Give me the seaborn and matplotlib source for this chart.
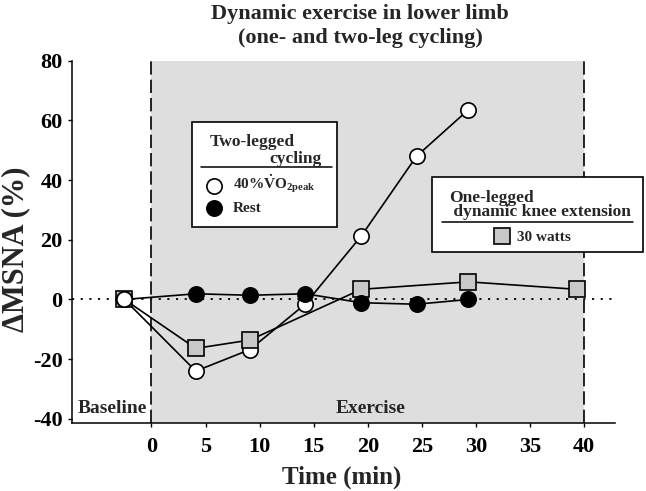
import matplotlib
matplotlib.use("Agg")
import matplotlib.pyplot as plt
import seaborn as sns
from matplotlib.patches import Rectangle
from matplotlib.lines import Line2D

# ---------------- data ----------------
time_vo2 = [-2.5, 4.1, 9.1, 14.2, 19.4, 24.5, 29.3]
msna_vo2 = [0.0, -24.0, -16.8, -1.6, 21.3, 48.0, 63.6]

time_rest = [-2.5, 4.1, 9.1, 14.2, 19.4, 24.5, 29.3]
msna_rest = [0.0, 1.9, 1.4, 1.9, -1.1, -1.6, 0.0]

time_knee = [-2.5, 4.1, 9.1, 19.4, 29.3, 39.3]
msna_knee = [0.0, -16.4, -13.6, 3.4, 5.9, 3.4]

x_ticks = [0, 5, 10, 15, 20, 25, 30, 35, 40]
y_ticks = [-40, -20, 0, 20, 40, 60, 80]
exercise_period = [0, 40]

title_lines = ["Dynamic exercise in lower limb", "(one- and two-leg cycling)"]
xlabel = "Time (min)"
ylabel = "ΔMSNA (%)"

# ---------------- style ----------------
sns.set_theme(style="ticks")
plt.rcParams["font.family"] = ["Liberation Serif", "DejaVu Serif"]
plt.rcParams["font.weight"] = "bold"
plt.rcParams["axes.unicode_minus"] = False
plt.rcParams["mathtext.fontset"] = "custom"
plt.rcParams["mathtext.rm"] = "Liberation Serif:bold"
plt.rcParams["mathtext.bf"] = "Liberation Serif:bold"
plt.rcParams["mathtext.it"] = "Liberation Serif:bold"

W, H = 646, 491
fig = plt.figure(figsize=(W / 100, H / 100), dpi=100)


def fx(px):
    return px / W


def fy(py):
    return 1 - py / H


ax = fig.add_axes([fx(71.7), fy(423.3), (615 - 71.7) / W, (423.3 - 60.7) / H])
ax.set_xlim(-7.37, 42.84)
ax.set_ylim(-41.5, 80)

# exercise shading and boundaries
ax.axvspan(exercise_period[0], exercise_period[1], color="#dedede", lw=0, zorder=0)
for xv in exercise_period:
    ax.axvline(xv, color="black", lw=1.2, ls=(0, (8, 3)), zorder=1)
ax.axhline(0, color="black", lw=1.3, ls=(0, (1.2, 3.6)), zorder=1.5)

line_kw = dict(color="black", lw=1.2, estimator=None, sort=False, ax=ax)
sns.lineplot(x=time_vo2, y=msna_vo2, marker="o", ms=11, mfc="white", mec="black",
             mew=1.2, zorder=3, **line_kw)
sns.lineplot(x=time_knee, y=msna_knee, marker="s", ms=11, mfc="#c8c8c8", mec="black",
             mew=1.2, zorder=4, **line_kw)
sns.lineplot(x=time_rest, y=msna_rest, marker="o", ms=11, mfc="black", mec="black",
             mew=1.2, zorder=5, **line_kw)
# baseline open circle is drawn in front
ax.plot(time_vo2[:1], msna_vo2[:1], ls="none", marker="o", ms=11, mfc="white",
        mec="black", mew=1.2, zorder=6)

ax.set_xticks(x_ticks)
ax.set_yticks(y_ticks)
ax.set_xticklabels([str(v) for v in x_ticks])
ax.set_yticklabels([str(v) for v in y_ticks])
ax.tick_params(axis="both", direction="out", length=3, width=1, labelsize=16, colors="black")
ax.tick_params(axis="x", pad=7)
ax.tick_params(axis="y", pad=3.5)
for lab in ax.get_xticklabels() + ax.get_yticklabels():
    lab.set_fontweight("bold")
sns.despine(ax=ax)
for s in ["left", "bottom"]:
    ax.spines[s].set_linewidth(1.1)
    ax.spines[s].set_color("black")
ax.grid(False)

ax.set_xlabel(xlabel, fontsize=18, fontweight="bold", va="baseline")
ax.xaxis.set_label_coords(fx(341.3), fy(483.3), transform=fig.transFigure)
ax.set_ylabel(ylabel, fontsize=22, fontweight="bold", va="center")
ax.yaxis.set_label_coords(fx(16), fy(249), transform=fig.transFigure)

# title
fig.text(fx(360), fy(18.5), title_lines[0], ha="center", va="baseline", fontsize=16,
         fontweight="bold")
fig.text(fx(360), fy(43), title_lines[1], ha="center", va="baseline", fontsize=16,
         fontweight="bold")

# period labels
fig.text(fx(77.7), fy(412.7), "Baseline", ha="left", va="baseline", fontsize=14, fontweight="bold")
fig.text(fx(371), fy(412.7), "Exercise", ha="center", va="baseline", fontsize=14, fontweight="bold")

# legend 1 (two-legged cycling)
fig.add_artist(Rectangle((fx(192.3), fy(226.7)), (336.7 - 192.3) / W, (226.7 - 121.7) / H,
                         transform=fig.transFigure, fc="white", ec="black", lw=1.2, zorder=5))
fig.text(fx(210), fy(146), "Two-legged", ha="left", va="baseline", fontsize=12.5,
         fontweight="bold", zorder=6)
fig.text(fx(321.7), fy(163.3), "cycling", ha="right", va="baseline", fontsize=12.5,
         fontweight="bold", zorder=6)
fig.add_artist(Line2D([fx(200.7), fx(331.7)], [fy(166.7), fy(166.7)], color="black", lw=1.1,
                      transform=fig.transFigure, zorder=6))
fig.add_artist(Line2D([fx(214)], [fy(186)], ls="none", marker="o", ms=11, mfc="white",
                      mec="black", mew=1.2, transform=fig.transFigure, zorder=6))
fig.text(fx(233), fy(189.3), r"40%$\dot{\mathbf{V}}\mathbf{O}_{\mathbf{2peak}}$", ha="left",
         va="baseline", fontsize=11, fontweight="bold", zorder=6)
fig.add_artist(Line2D([fx(214)], [fy(207.7)], ls="none", marker="o", ms=11, mfc="black",
                      mec="black", mew=1.2, transform=fig.transFigure, zorder=6))
fig.text(fx(233), fy(211.7), "Rest", ha="left", va="baseline", fontsize=11,
         fontweight="bold", zorder=6)

# legend 2 (one-legged knee extension)
fig.add_artist(Rectangle((fx(431.7), fy(252.3)), (642.7 - 431.7) / W, (252.3 - 177.3) / H,
                         transform=fig.transFigure, fc="white", ec="black", lw=1.2, zorder=5))
fig.text(fx(449.3), fy(215.7), "One-legged\n dynamic knee extension", ha="left",
         va="baseline", multialignment="left", linespacing=0.8, fontsize=12.5,
         fontweight="bold", zorder=6)
fig.add_artist(Line2D([fx(442), fx(632.7)], [fy(221.7), fy(221.7)], color="black", lw=1.1,
                      transform=fig.transFigure, zorder=6))
fig.add_artist(Line2D([fx(501.7)], [fy(236)], ls="none", marker="s", ms=11, mfc="#c8c8c8",
                      mec="black", mew=1.2, transform=fig.transFigure, zorder=6))
fig.text(fx(516.7), fy(241), "30 watts", ha="left", va="baseline", fontsize=11,
         fontweight="bold", zorder=6)

fig.savefig("out.png", dpi=100, facecolor="white")
